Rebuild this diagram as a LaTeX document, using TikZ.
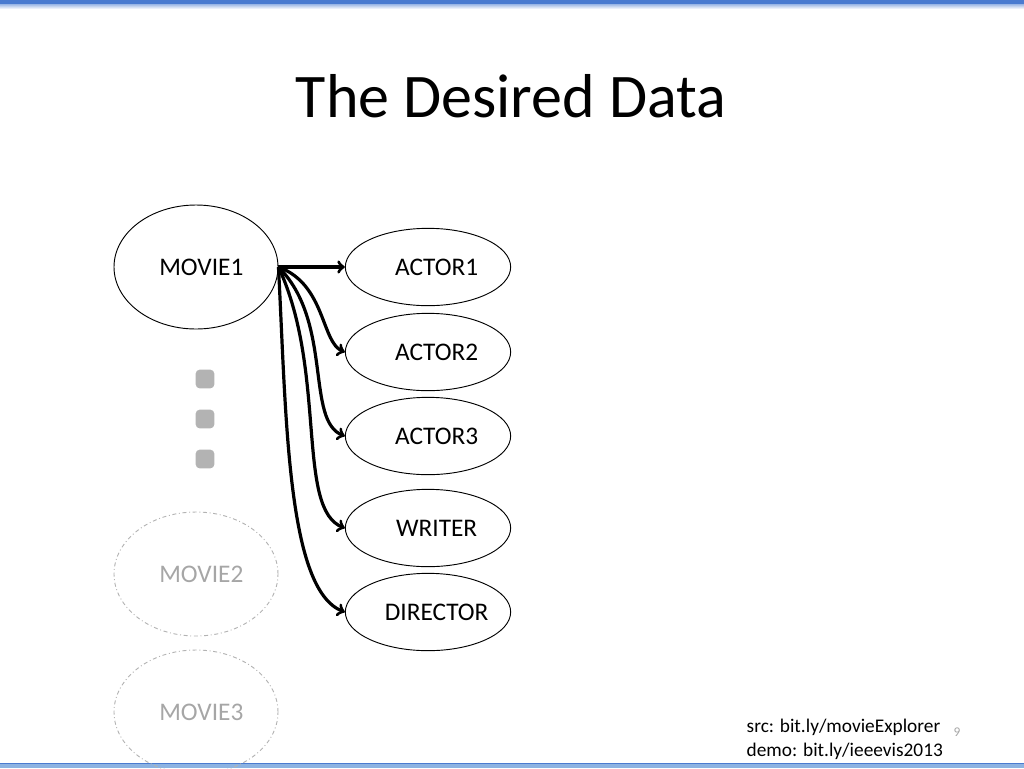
\documentclass[tikz,border=0pt]{standalone}
\usepackage{fontspec}
\setmainfont{Carlito}
\usetikzlibrary{arrows,shapes.geometric}

\definecolor{barblue}{HTML}{4A7BD0}
\definecolor{barlight}{HTML}{8DB3E2}
\definecolor{fadegray}{HTML}{A6A6A6}
\definecolor{dotgray}{HTML}{B3B3B3}

% text sits a little right of the ellipse centre
\newcommand{\offtext}[1]{\makebox[40pt]{\hspace*{13pt}#1}}

\tikzset{
  entity/.style={ellipse, draw, line width=0.7pt, inner sep=0pt,
    font=\fontsize{19}{22}\selectfont},
  movie/.style={entity, minimum width=123pt, minimum height=93pt},
  actor/.style={entity, minimum width=124pt, minimum height=58pt},
  faded/.style={movie, draw=dotgray, dash dot, text=fadegray},
  link/.style={draw, ->, >=to, line width=2.4pt}
}

\begin{document}
\begin{tikzpicture}[x=0.75pt, y=-0.75pt]
  \useasboundingbox (0,0) rectangle (1024,768);
  % slide frame
  \shade[top color=barblue, bottom color=white] (0,0) rectangle (1024,9);
  \fill[barblue] (0,0) rectangle (1024,4);
  \fill[barlight] (0,763) rectangle (1024,768);
  \draw[barblue, line width=0.6pt] (0,763) -- (1024,763);

  \node (title) at (511,96) {\fontsize{46.5}{52}\selectfont The Desired Data};

  \node[movie] (movie1) at (196,267) {\makebox[30pt]{\hspace*{8pt}MOVIE1}};
  \node[faded] (movie2) at (196,574) {\makebox[30pt]{\hspace*{8pt}MOVIE2}};
  \node[faded] (movie3) at (196,712) {\makebox[30pt]{\hspace*{8pt}MOVIE3}};

  \node[actor] (actor1) at (428,267) {\offtext{ACTOR1}};
  \node[actor] (actor2) at (428,352) {\offtext{ACTOR2}};
  \node[actor] (actor3) at (428,436) {\offtext{ACTOR3}};
  \node[actor] (writer) at (428,528) {\offtext{WRITER}};
  \node[actor] (director) at (428,612) {\offtext{DIRECTOR}};

  % the three dots
  \foreach \y/\name in {379/dota, 419/dotb, 459/dotc}
    \node[fill=dotgray, rounded corners=3pt, minimum size=14pt, inner sep=0pt] (\name) at (205,\y) {};

  \path
  (movie1.east) edge[link] (actor1.west)
  (movie1.east) edge[link, out=-20, in=160, out looseness=1.2, in looseness=0.6] (actor2.west)
  (movie1.east) edge[link, out=-45, in=160, out looseness=1.1, in looseness=0.6] (actor3.west)
  (movie1.east) edge[link, out=-65, in=160, out looseness=1.1, in looseness=0.5] (writer.west)
  (movie1.east) edge[link, out=-87, in=160, out looseness=1.1, in looseness=0.45] (director.west)
  ;

  \node[anchor=base west, align=left, font=\fontsize{14.5}{17.5}\selectfont] (source) at (742,756)
    {src: bit.ly/movieExplorer\\demo: bit.ly/ieeevis2013};
  \node[anchor=base, text=fadegray, font=\fontsize{10}{12}\selectfont] (page) at (957,736) {9};
\end{tikzpicture}
\end{document}
